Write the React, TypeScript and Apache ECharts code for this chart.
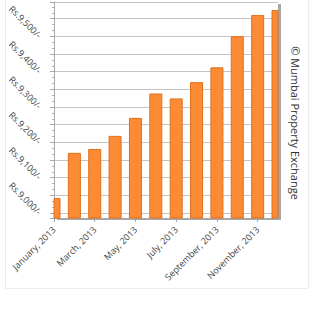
import React, { useEffect, useRef } from "react";
import * as echarts from "echarts";

const months = [
  "January, 2013",
  "February, 2013",
  "March, 2013",
  "April, 2013",
  "May, 2013",
  "June, 2013",
  "July, 2013",
  "August, 2013",
  "September, 2013",
  "October, 2013",
  "November, 2013",
  "December, 2013",
];
const prices = [9041, 9169, 9180, 9217, 9268, 9337, 9323, 9369, 9411, 9499, 9559, 9573];
const yMin = 8986;
const yMax = 9597;
const gridStep = 50;
const labelStep = 100;
const credit = "© Mumbai Property Exchange";

const FONT = "'Open Sans', 'DejaVu Sans', sans-serif";
const BAR_W = 12;

export default function App() {
  const ref = useRef<HTMLDivElement>(null);
  useEffect(() => {
    if (!ref.current) return;
    const chart = echarts.init(ref.current, undefined, { renderer: "svg" });
    chart.setOption({
      animation: false,
      backgroundColor: "#ffffff",
      textStyle: { fontFamily: FONT },
      grid: {
        left: 54,
        right: 42,
        top: -2,
        bottom: 112,
        show: true,
        borderWidth: 0,
        backgroundColor: "#ffffff",
        shadowColor: "rgba(0,0,0,0.35)",
        shadowOffsetX: 3,
        shadowOffsetY: 2,
        shadowBlur: 1,
      },
      xAxis: {
        type: "category",
        data: months,
        boundaryGap: false,
        axisLine: { lineStyle: { color: "#a8a8a8", width: 1 } },
        axisTick: { show: true, interval: 1, length: 4, lineStyle: { color: "#a8a8a8" } },
        axisLabel: {
          interval: 1,
          rotate: 45,
          margin: 10,
          fontSize: 9,
          color: "#444",
          fontFamily: FONT,
        },
        splitLine: { show: false },
      },
      yAxis: {
        type: "value",
        min: yMin,
        max: yMax,
        minInterval: gridStep,
        maxInterval: gridStep,
        splitNumber: 12,
        axisLine: { show: true, lineStyle: { color: "#a8a8a8", width: 1 } },
        axisTick: { show: true, length: 4, lineStyle: { color: "#a8a8a8" } },
        minorTick: { show: true, splitNumber: 3, length: 2, lineStyle: { color: "#b0b0b0" } },
        splitLine: { show: true, lineStyle: { color: "#c4c4c4", width: 1 } },
        axisLabel: {
          rotate: -45,
          margin: 14,
          fontSize: 9,
          color: "#444",
          fontFamily: FONT,
          formatter: (v: number) => {
            const r = Math.round(v);
            if (Math.abs(v - r) > 1e-6 || r % labelStep !== 0) return "";
            return "Rs." + r.toLocaleString("en-US") + "/-";
          },
        },
      },
      series: [
        {
          type: "custom",
          data: prices.map((v, i) => [i, v]),
          encode: { x: 0, y: 1 },
          z: 3,
          renderItem: (params: any, api: any) => {
            const idx = api.value(0);
            const val = api.value(1);
            const top = api.coord([idx, val]);
            const bottom = api.coord([idx, yMin]);
            const rect = {
              x: top[0] - BAR_W / 2,
              y: top[1],
              width: BAR_W,
              height: bottom[1] - top[1],
            };
            const cs = params.coordSys;
            const clipped = echarts.graphic.clipRectByRect(rect, {
              x: cs.x,
              y: cs.y,
              width: cs.width,
              height: cs.height,
            });
            if (!clipped) return null;
            return {
              type: "rect",
              shape: clipped,
              style: { fill: "#fd8a35", stroke: "#e0701c", lineWidth: 1 },
            };
          },
        },
      ],
      graphic: [
        {
          type: "rect",
          shape: { x: 5.5, y: -5, width: 303, height: 293.5 },
          style: { fill: "none", stroke: "#ececec", lineWidth: 1 },
          silent: true,
          z: -10,
        },
        {
          type: "text",
          x: 295.5,
          y: 123,
          rotation: -Math.PI / 2,
          style: {
            text: credit,
            fontSize: 11,
            fontFamily: FONT,
            fill: "#333",
            align: "center",
            verticalAlign: "middle",
          },
        },
      ],
    });
    return () => chart.dispose();
  }, []);
  return (
    <div
      ref={ref}
      style={{ position: "absolute", left: 0, top: 0, width: 320, height: 330 }}
    />
  );
}
